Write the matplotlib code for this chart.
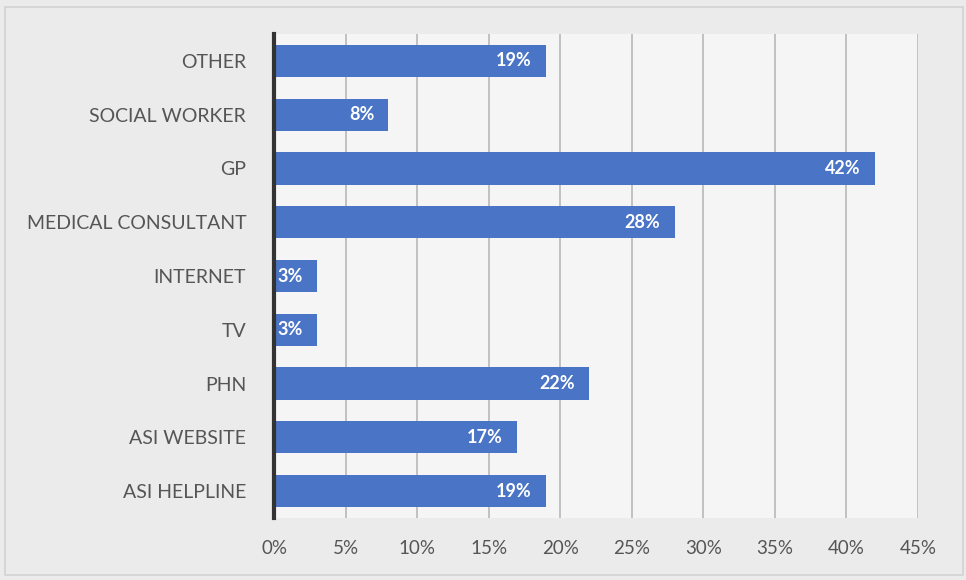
import matplotlib.pyplot as plt
from matplotlib.patches import Rectangle
from matplotlib.ticker import MultipleLocator, PercentFormatter

categories = ['ASI HELPLINE', 'ASI WEBSITE', 'PHN', 'TV', 'INTERNET',
              'MEDICAL CONSULTANT', 'GP', 'SOCIAL WORKER', 'OTHER']
values = [19, 17, 22, 3, 3, 28, 42, 8, 19]

plt.rcParams['font.family'] = ['Lato', 'DejaVu Sans']

fig = plt.figure(figsize=(9.66, 5.8), dpi=100, facecolor='#ebebeb')
ax = fig.add_axes([274 / 966, 62 / 580, 644 / 966, 484 / 580])
ax.set_facecolor('#f5f5f5')

# chart frame
fig.patches.append(Rectangle((5 / 966, 5 / 580), 958 / 966, 568 / 580,
                             transform=fig.transFigure, fill=False,
                             edgecolor='#d2d2d2', linewidth=1.2))

y = range(len(categories))
bars = ax.barh(y, values, height=0.6, color='#4a74c6', zorder=3)

for b, v in zip(bars, values):
    ax.text(b.get_width() - 1.0, b.get_y() + b.get_height() / 2, f'{v}%',
            ha='right', va='center', color='white', fontsize=13,
            fontweight='bold', zorder=4)

ax.set_xlim(0, 45)
ax.set_ylim(-0.5, len(categories) - 0.5)
ax.xaxis.set_major_locator(MultipleLocator(5))
ax.xaxis.set_major_formatter(PercentFormatter(decimals=0))
ax.set_yticks(list(y))
ax.set_yticklabels(categories)
ax.tick_params(axis='y', length=0, pad=20, labelsize=14, labelcolor='#555555')
ax.tick_params(axis='x', length=0, pad=16, labelsize=13.5, labelcolor='#555555')

ax.grid(axis='x', color='#b8b8b8', linewidth=1.2, zorder=0)
for s in ['top', 'right', 'bottom']:
    ax.spines[s].set_visible(False)
ax.spines['left'].set_color('#333333')
ax.spines['left'].set_linewidth(3)
ax.spines['left'].set_zorder(5)

fig.savefig('out.png', dpi=100, facecolor=fig.get_facecolor())
